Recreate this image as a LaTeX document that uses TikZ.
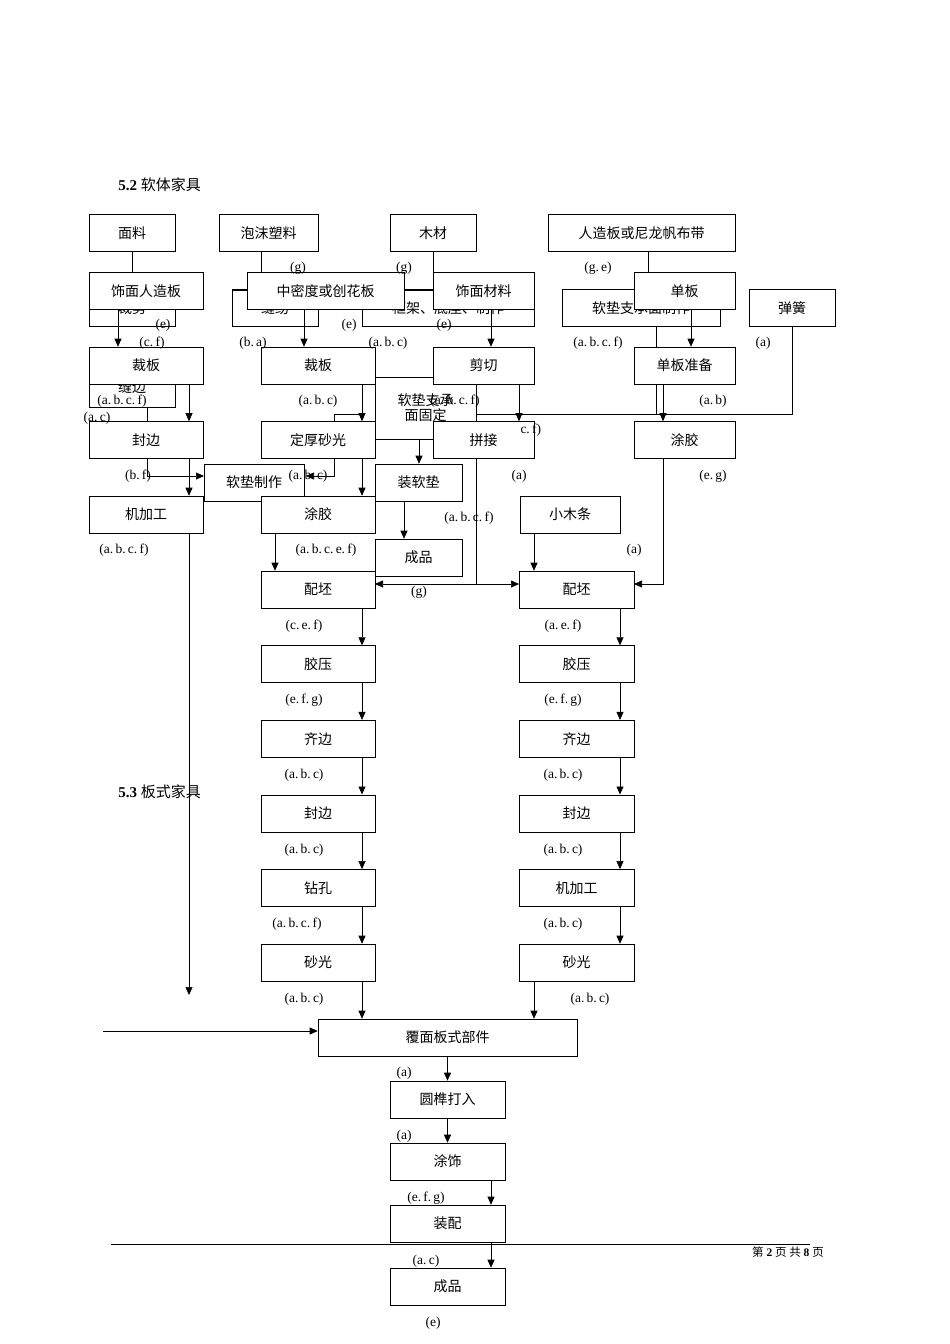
\documentclass[tikz,border=0pt]{standalone}
\usepackage{fontspec}
\setmainfont{Liberation Serif}
\newfontfamily\cjk{Noto Sans CJK SC}
\usetikzlibrary{arrows.meta}
\begin{document}
\begin{tikzpicture}[x=1pt,y=-1pt,
  box/.style={draw, fill=white, minimum height=37pt, inner sep=0pt, align=center, font=\fontsize{14}{15}\cjk},
  lab/.style={inner sep=0pt, font=\fontsize{13.5}{14}\selectfont},
  arr/.style={-{Triangle[length=8pt,width=7pt]}},
  every path/.style={line width=0.6pt}]
\useasboundingbox (0,0) rectangle (950,1344);
% headings
\node[anchor=west, inner sep=0pt] (h52) at (118,185) {\fontsize{15}{16}\selectfont\textbf{5.2} {\cjk 软体家具}};
\node[anchor=west, inner sep=0pt] (h53) at (118,792) {\fontsize{15}{16}\selectfont\textbf{5.3} {\cjk 板式家具}};
% back boxes
\node[box, minimum width=86pt] (caijian) at (132,308) {裁剪};
\node[box, minimum width=86pt] (fengren) at (275,308) {缝纫};
\node[box, minimum width=172pt] (kuangjia) at (448,308) {框架、底座、制作};
\node[box, minimum width=158pt] (rdzc) at (641,308) {软垫支承面制作};
\node[box, minimum width=86pt, minimum height=43pt] (fengbian0) at (132,385.5) {\\缝边};
\node[box, minimum width=101pt, minimum height=62pt] (rdgd) at (425.5,408) {软垫支承\\面固定};
% top row
\node[box, minimum width=86pt] (mianliao) at (132,233) {面料};
\node[box, minimum width=99pt] (paomo) at (268.5,233) {泡沫塑料};
\node[box, minimum width=86pt] (mucai) at (433,233) {木材};
\node[box, minimum width=187pt] (rzb) at (641.5,233) {人造板或尼龙帆布带};
\node[box, minimum width=86pt] (tanhuang) at (792,308) {弹簧};
% lines of the upper chart
\draw (mianliao.south) -- ++(0,20);
\draw ([xshift=-7pt]paomo.south) -- ++(0,20);
\draw (mucai.south) -- ++(0,20);
\draw ([xshift=6.5pt]rzb.south) -- ++(0,20);
\draw (232,290) -- (404,290) (404,290) -- (433,290);
\draw ([xshift=15pt]rdzc.south) -- (656,414);
\draw (tanhuang.south) -- (792,414) -- (476,414);
\draw (375,377) -- (433,377);
\draw (375,439) -- (433,439);
\draw (334,421) -- (334,414) -- (362,414);
\draw[arr] (334,459) -- (334,476) -- (306,476);
\draw (147,407) -- (147,421);
\draw[arr] (147,459) -- (147,476) -- (204,476);
\draw (476,384) -- (476,584);
\draw[arr] (476,584) -- (375,584);
\draw[arr] (476,584) -- (519,584);
\draw[arr] (663,459) -- (663,584) -- (634,584);
% front boxes
\node[box, minimum width=114pt] (smrzb) at (146,291) {饰面人造板};
\node[box, minimum width=157pt] (zmd) at (325.5,291) {中密度或创花板};
\node[box, minimum width=101pt] (smcl) at (483.5,291) {饰面材料};
\node[box, minimum width=101pt] (danban) at (684.5,291) {单板};
\node[box, minimum width=114pt] (caiban1) at (146,365.5) {裁板};
\node[box, minimum width=114pt] (caiban2) at (318,365.5) {裁板};
\node[box, minimum width=101pt] (jianqie) at (483.5,365.5) {剪切};
\node[box, minimum width=101pt] (dbzb) at (684.5,365.5) {单板准备};
\node[box, minimum width=114pt] (fengbian1) at (146,440) {封边};
\node[box, minimum width=114pt] (dhsg) at (318,440) {定厚砂光};
\node[box, minimum width=101pt] (pinjie) at (483.5,440) {拼接};
\node[box, minimum width=101pt] (tujiao1) at (684.5,440) {涂胶};
\node[box, minimum width=100pt] (rdzz) at (254,482.5) {软垫制作};
\node[box, minimum width=87pt] (zrd) at (418.5,482.5) {装软垫};
\node[box, minimum width=114pt] (jjg1) at (146,514.5) {机加工};
\node[box, minimum width=114pt] (tujiao2) at (318,514.5) {涂胶};
\node[box, minimum width=100pt] (xmt) at (570,514.5) {小木条};
\node[box, minimum width=87pt] (cp1) at (418.5,557.5) {成品};
\node[box, minimum width=114pt] (peipi1) at (318,589.5) {配坯};
\node[box, minimum width=115pt] (peipi2) at (576.5,589.5) {配坯};
% arrows of the upper chart
\draw[arr] ([xshift=-28pt]smrzb.south) -- ([xshift=-28pt]caiban1.north);
\draw[arr] ([xshift=-21.5pt]zmd.south) -- ([xshift=-14pt]caiban2.north);
\draw[arr] ([xshift=7.5pt]smcl.south) -- ([xshift=7.5pt]jianqie.north);
\draw[arr] ([xshift=6.5pt]danban.south) -- ([xshift=6.5pt]dbzb.north);
\draw[arr] ([xshift=43pt]caiban1.south) -- ([xshift=43pt]fengbian1.north);
\draw[arr] ([xshift=44pt]caiban2.south) -- ([xshift=44pt]dhsg.north);
\draw[arr] ([xshift=35.5pt]jianqie.south) -- ([xshift=35.5pt]pinjie.north);
\draw[arr] ([xshift=-21.5pt]dbzb.south) -- ([xshift=-21.5pt]tujiao1.north);
\draw[arr] ([xshift=43pt]fengbian1.south) -- ([xshift=43pt]jjg1.north);
\draw[arr] ([xshift=44pt]dhsg.south) -- ([xshift=44pt]tujiao2.north);
\draw[arr] (419,439) -- (zrd.north -| 419,0);
\draw[arr] ([xshift=-14.5pt]zrd.south) -- ([xshift=-14.5pt]cp1.north);
\draw[arr] ([xshift=-43pt]tujiao2.south) -- ([xshift=-43pt]peipi1.north);
\draw[arr] ([xshift=-36pt]xmt.south) -- ([xshift=-42.5pt]peipi2.north);
\draw[arr] ([xshift=43pt]jjg1.south) -- (189,995);
% columns of the lower chart
\foreach \t/\n [count=\i] in {胶压/a,齐边/b,封边/c,钻孔/d,砂光/e}
  \node[box, minimum width=114pt] (l\n) at (318,589.5+74.6*\i) {\t};
\foreach \t/\n [count=\i] in {胶压/a,齐边/b,封边/c,机加工/d,砂光/e}
  \node[box, minimum width=115pt] (r\n) at (576.5,589.5+74.6*\i) {\t};
\draw[arr] ([xshift=44pt]peipi1.south) -- ([xshift=44pt]la.north);
\draw[arr] ([xshift=43.5pt]peipi2.south) -- ([xshift=43.5pt]ra.north);
\foreach \a/\b in {a/b,b/c,c/d,d/e}{
  \draw[arr] ([xshift=44pt]l\a.south) -- ([xshift=44pt]l\b.north);
  \draw[arr] ([xshift=43.5pt]r\a.south) -- ([xshift=43.5pt]r\b.north);
}
\node[box, minimum width=259pt] (fmbs) at (447.5,1037.5) {覆面板式部件};
\node[box, minimum width=115pt] (ysdr) at (447.5,1099.5) {圆榫打入};
\node[box, minimum width=115pt] (tushi) at (447.5,1161.5) {涂饰};
\node[box, minimum width=115pt] (zhp) at (447.5,1223.5) {装配};
\node[box, minimum width=115pt] (cp2) at (447.5,1286.5) {成品};
\draw[arr] ([xshift=44pt]le.south) -- (fmbs.north -| 362,0);
\draw[arr] ([xshift=-42.5pt]re.south) -- (fmbs.north -| 534,0);
\coordinate (lin) at (103,1031);
\draw[arr] (lin) -- (lin -| fmbs.west);
\draw[arr] (fmbs.south) -- (ysdr.north);
\draw[arr] (ysdr.south) -- (tushi.north);
\draw[arr] ([xshift=43.5pt]tushi.south) -- ([xshift=43.5pt]zhp.north);
\draw[arr] ([xshift=43.5pt]zhp.south) -- ([xshift=43.5pt]cp2.north);
% labels
\foreach \x/\y/\t in {298/268/(g), 404/268/(g), 598/268/(g.\,e), 163/325/(e), 152/343/(c.\,f),
  253/343/(b.\,a), 349/325/(e), 444/325/(e), 388/343/(a.\,b.\,c), 598/343/(a.\,b.\,c.\,f), 763/343/(a),
  122/401/(a.\,b.\,c.\,f), 97/418/(a.\,c), 318/401/(a.\,b.\,c), 455/401/(a.\,b.\,c.\,f), 713/401/(a.\,b),
  520/430/{\hspace{1.6em}c.\,f)}, 138/476/(b.\,f), 308/476/(a.\,b.\,c), 519/476/(a), 713/476/(e.\,g),
  124/550/(a.\,b.\,c.\,f), 326/550/(a.\,b.\,c.\,e.\,f), 469/518/(a.\,b.\,c.\,f), 634/550/(a), 419/592/(g),
  304/626/(c.\,e.\,f), 563/626/(a.\,e.\,f), 304/700/(e.\,f.\,g), 563/700/(e.\,f.\,g),
  304/775/(a.\,b.\,c), 563/775/(a.\,b.\,c), 304/850/(a.\,b.\,c), 563/850/(a.\,b.\,c),
  297/924/(a.\,b.\,c.\,f), 563/924/(a.\,b.\,c), 304/999/(a.\,b.\,c), 590/999/(a.\,b.\,c),
  404/1073/(a), 404/1136/(a), 426/1198/(e.\,f.\,g), 426/1261/(a.\,c), 433/1323/(e)}
  \node[lab] at (\x,\y) {\t};
% footer
\draw[line width=0.4pt] (111,1244) -- (810,1244);
\node[lab, font=\fontsize{11.5}{12}\selectfont] (foot) at (788,1252) {{\cjk 第} \textbf{2} {\cjk 页 共} \textbf{8} {\cjk 页}};
\end{tikzpicture}
\end{document}
